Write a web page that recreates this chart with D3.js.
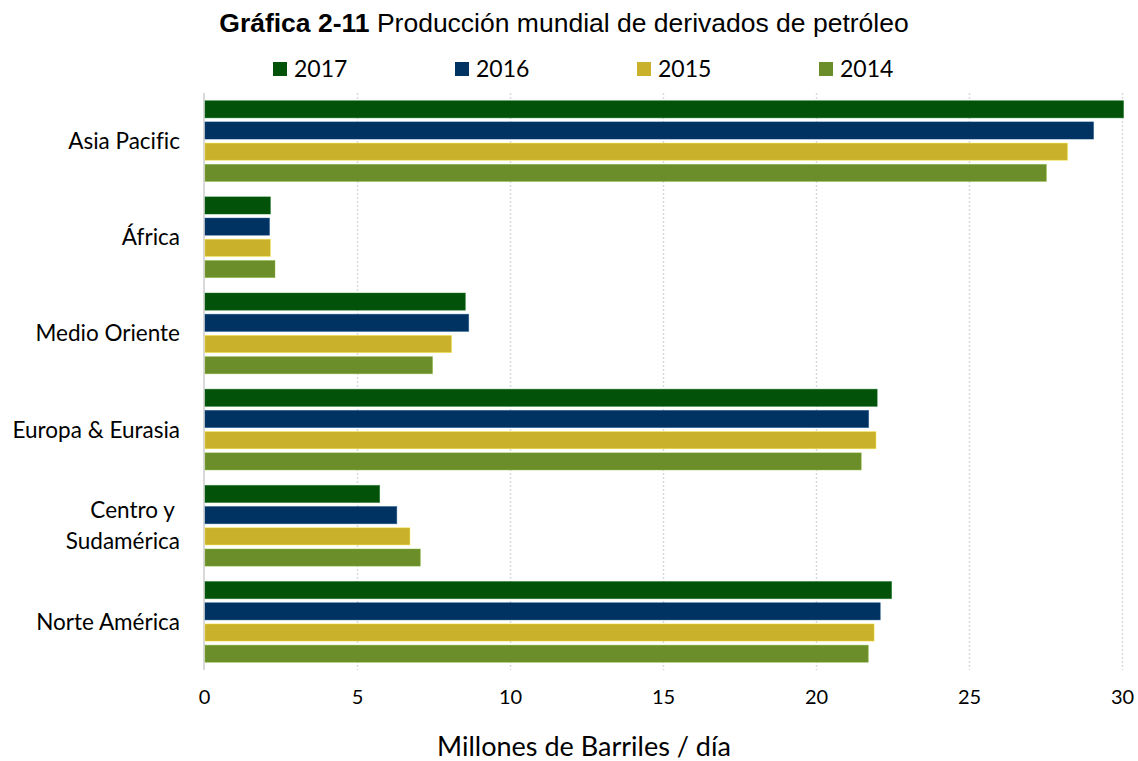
<!DOCTYPE html>
<html>
<head>
<meta charset="utf-8">
<script src="https://cdn.jsdelivr.net/npm/d3@7"></script>
<style>
  body { margin: 0; background: #fff; }
  svg { display: block; }
</style>
</head>
<body>
<div id="canvas"></div>
<script>
'use strict';

// Regions, top to bottom.
const regions = ['Asia Pacific', 'África', 'Medio Oriente', 'Europa & Eurasia',
  'Centro y \nSudamérica', 'Norte América'];
const years = ['2017', '2016', '2015', '2014'];
const yearColors = ['#02520a', '#003361', '#c9b12b', '#6b8e2b'];

// Millones de barriles / día, per region, in the order of `regions`.
const values2017 = [30.05, 2.17, 8.54, 22.0, 5.74, 22.47];
const values2016 = [29.07, 2.14, 8.65, 21.72, 6.30, 22.10];
const values2015 = [28.22, 2.17, 8.09, 21.96, 6.73, 21.90];
const values2014 = [27.53, 2.32, 7.47, 21.48, 7.07, 21.71];
const seriesValues = [values2017, values2016, values2015, values2014];

const xTicks = [0, 5, 10, 15, 20, 25, 30];

const width = 1138;
const height = 761;
const plot = { left: 204, right: 1122, top: 93, bottom: 670 };
const labelFont = 'Lato, "Open Sans", sans-serif';

const svg = d3.select('#canvas').append('svg')
    .attr('width', width)
    .attr('height', height);

const x = d3.scaleLinear()
    .domain([0, 30])
    .range([plot.left, plot.right]);

const y = d3.scaleBand()
    .domain(regions)
    .range([plot.top, plot.bottom])
    .paddingInner(0.16)
    .paddingOuter(0.08);

const ySub = d3.scaleBand()
    .domain(years)
    .range([0, y.bandwidth()])
    .paddingInner(0.19)
    .paddingOuter(0);

// Dotted vertical gridlines.
svg.append('g')
    .attr('class', 'grid')
    .attr('transform', `translate(0, ${plot.top})`)
    .call(d3.axisBottom(x).tickValues(xTicks.slice(1))
        .tickSize(plot.bottom - plot.top).tickFormat(''))
    .call(g => g.select('.domain').remove())
    .call(g => g.selectAll('line')
        .attr('stroke', '#d9d9d9')
        .attr('stroke-width', 1.5)
        .attr('stroke-dasharray', '2,2'));

// Solid line at zero.
svg.append('line')
    .attr('x1', x(0)).attr('x2', x(0))
    .attr('y1', plot.top).attr('y2', plot.bottom)
    .attr('stroke', '#d9d9d9')
    .attr('stroke-width', 2);

// Bars.
years.forEach((year, i) => {
  svg.append('g')
      .selectAll('rect')
      .data(seriesValues[i].map((v, j) => ({ region: regions[j], value: v })))
      .join('rect')
      .attr('x', x(0) + 1)
      .attr('y', d => y(d.region) + ySub(year))
      .attr('width', d => x(d.value) - x(0) - 1)
      .attr('height', ySub.bandwidth())
      .attr('fill', yearColors[i])
      .attr('stroke', d3.color(yearColors[i]).brighter(0.8))
      .attr('stroke-opacity', 0.5)
      .attr('stroke-width', 0.8);
});

// X axis tick labels.
svg.append('g')
    .attr('transform', `translate(0, ${plot.bottom})`)
    .call(d3.axisBottom(x).tickValues(xTicks).tickSize(0).tickPadding(20))
    .call(g => g.select('.domain').remove())
    .call(g => g.selectAll('text')
        .attr('font-family', labelFont)
        .attr('font-size', 20)
        .attr('fill', '#000'));

// Region labels.
const regionLabels = svg.append('g')
    .selectAll('text')
    .data(regions)
    .join('text')
    .attr('x', plot.left - 24)
    .attr('y', d => y(d) + y.bandwidth() / 2)
    .attr('text-anchor', 'end')
    .attr('font-family', labelFont)
    .attr('font-size', 22.5)
    .style('white-space', 'pre')
    .style('font-variant-ligatures', 'none')
    .attr('fill', '#000');

regionLabels.each(function(d) {
  const lines = d.split('\n');
  const lineHeight = 31;
  const offset = -(lines.length - 1) * lineHeight / 2;
  d3.select(this).selectAll('tspan')
      .data(lines)
      .join('tspan')
      .attr('x', plot.left - 24)
      .attr('dy', (l, k) => k === 0 ? offset + 8 : lineHeight)
      .text(l => l);
});

// Title.
const title = svg.append('text')
    .attr('x', 564)
    .attr('y', 32)
    .attr('text-anchor', 'middle')
    .attr('font-family', '"Liberation Sans", Arial, sans-serif')
    .attr('font-size', 26.5)
    .attr('fill', '#000');
title.append('tspan').attr('font-weight', 'bold').text('Gráfica 2-11');
title.append('tspan').text(' Producción mundial de derivados de petróleo');

// Legend.
const legend = svg.append('g')
    .selectAll('g')
    .data(years)
    .join('g')
    .attr('transform', (d, i) => `translate(${273 + i * 182}, 62)`);
legend.append('rect')
    .attr('width', 14)
    .attr('height', 14)
    .attr('fill', (d, i) => yearColors[i]);
legend.append('text')
    .attr('x', 21)
    .attr('y', 15)
    .attr('font-family', labelFont)
    .attr('font-size', 23)
    .attr('fill', '#000')
    .text(d => d);

// Axis title.
svg.append('text')
    .attr('x', 584)
    .attr('y', 756)
    .attr('text-anchor', 'middle')
    .attr('font-family', labelFont)
    .attr('font-size', 27)
    .attr('fill', '#000')
    .text('Millones de Barriles / día');
</script>
</body>
</html>
